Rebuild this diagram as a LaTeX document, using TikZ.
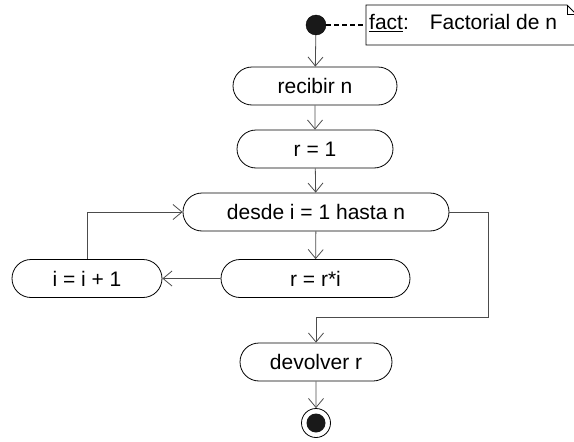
\documentclass[tikz,border=0pt]{standalone}
\usepackage{fontspec}
\setmainfont{Liberation Sans}
\usetikzlibrary{shapes,shapes.misc,arrows.meta,calc,positioning}

\begin{document}
\begin{tikzpicture}[%
x=1pt, y=-1pt,
>={Straight Barb[length=9pt,width=15pt]},
node distance=63pt,
on grid,
act/.style={rounded rectangle, draw=black, line width=0.8pt,
  minimum height=38pt, inner sep=0pt,
  font=\fontsize{21}{25}\selectfont},
flow/.style={->, draw=black!70, line width=0.8pt},
every node/.style={font=\fontsize{21}{25}\selectfont}
]
\useasboundingbox (0,0) rectangle (574,442);

\node[circle, fill=black!90, draw=black, minimum size=20pt, inner sep=0pt] (ini) at (316,25) {};
\node[act, minimum width=164pt] (recibir) at (315,86) {recibir n};
\node[act, minimum width=156pt] (r1) [below=of recibir] {r = 1};
\node[act, minimum width=266pt] (desde) at (316,212) {desde i = 1 hasta n};
\node[act, minimum width=189pt] (rri) at (315.5,278.5) {r = r*i};
\node[act, minimum width=150pt] (inc) at (87,278.5) {i = i + 1};
\node[act, minimum width=152pt] (devolver) at (316,362) {devolver r};
\node[circle, draw=black, line width=0.8pt, minimum size=29pt, inner sep=0pt] (fin) at (316,423) {};
\node[circle, fill=black!90, minimum size=19pt, inner sep=0pt] at (fin) {};

% nota
\coordinate (nw) at (366,5);
\draw[line width=0.8pt] (578,45) -- (366,45) -- (nw) -- (567,5) -- (576,14);
\draw[line width=0.8pt] (567,5) -- (567,14) -- (576,14);
\node[anchor=west, inner sep=0pt] (nota) at (369,23) {\underline{fact}:\quad Factorial de n};
\draw[dashed, line width=1.6pt, dash pattern=on 5pt off 3pt] (ini) -- (366,25);

% flujo
\path[flow] (ini) edge (recibir);
\path[flow] (recibir) edge (r1);
\path[flow] (r1) edge (desde);
\path[flow] (desde) edge (rri);
\path[flow] (rri) edge (inc);
\draw[flow] (inc.north) |- (desde.west);
\draw[flow] (desde.east) -- (488,212) -- (488,317) -| (devolver.north);
\path[flow] (devolver) edge (fin);
\end{tikzpicture}
\end{document}
